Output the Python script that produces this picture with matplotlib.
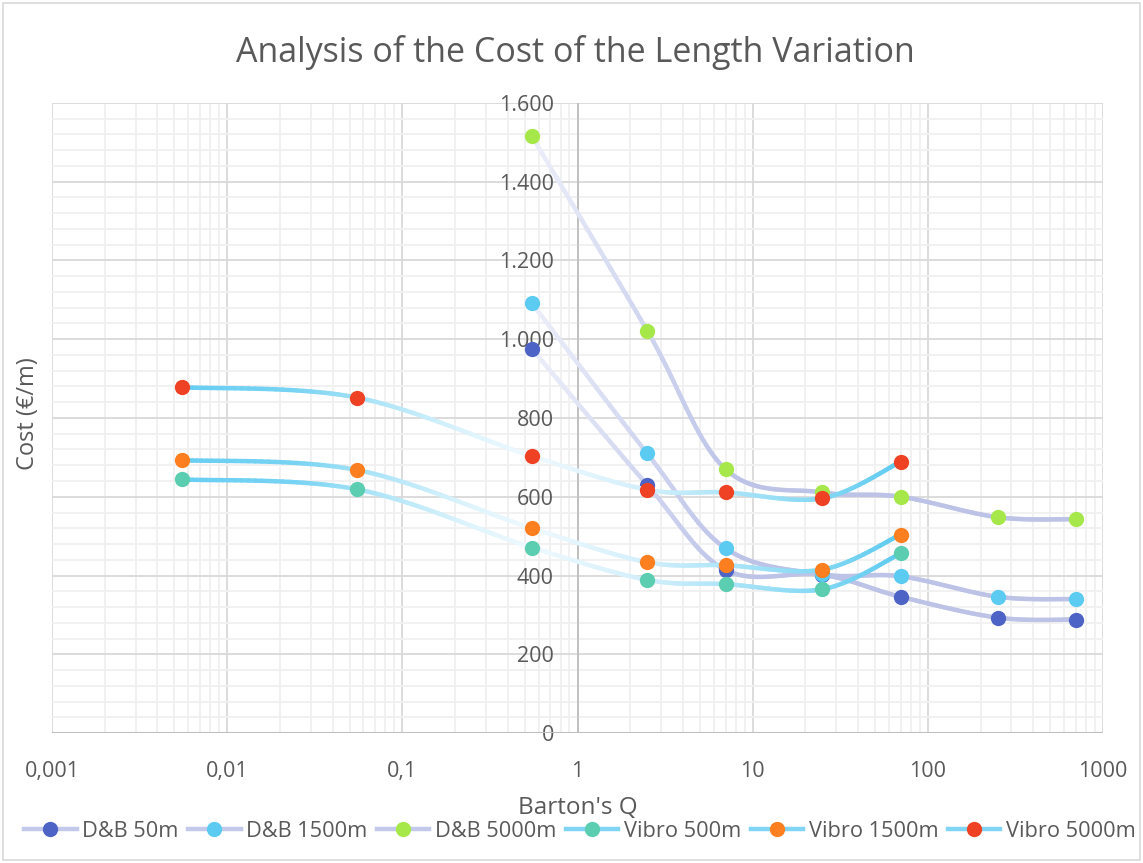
import numpy as np
import matplotlib
matplotlib.use("Agg")
import matplotlib.pyplot as plt
from matplotlib.collections import LineCollection
from matplotlib.colors import to_rgb
from matplotlib.lines import Line2D
from matplotlib.patches import Rectangle

plt.rcParams['font.family'] = ['Open Sans', 'DejaVu Sans']

# data
q_db = [0.55, 2.5, 7, 25, 70, 250, 700]
db_50 = [975, 630, 414, 402, 346, 293, 288]
db_1500 = [1091, 710, 469, 403, 398, 346, 340]
db_5000 = [1515, 1022, 670, 611, 600, 548, 543]

q_vib = [0.0055, 0.055, 0.55, 2.5, 7, 25, 70]
vib_500 = [644, 619, 471, 389, 378, 365, 456]
vib_1500 = [693, 668, 520, 434, 426, 415, 504]
vib_5000 = [878, 852, 703, 618, 611, 596, 689]

labels = ["D&B 50m", "D&B 1500m", "D&B 5000m", "Vibro 500m", "Vibro 1500m", "Vibro 5000m"]
marker_cols = ["#4d63c6", "#5bcbf1", "#a6e84a", "#5bcdb0", "#fd7f20", "#ef4124"]

x_ticks = [0.001, 0.01, 0.1, 1, 10, 100, 1000]
x_ticklabels = ["0,001", "0,01", "0,1", "1", "10", "100", "1000"]
y_ticks = [0, 200, 400, 600, 800, 1000, 1200, 1400, 1600]
y_ticklabels = ["0", "200", "400", "600", "800", "1.000", "1.200", "1.400", "1.600"]

# gradient stops (log10 x -> colour)
db_stops = [(-0.3, "#eef0fa"), (0.4, "#d0d5ef"), (0.9, "#bcc3e7"), (3.0, "#bcc3e7")]
vib_stops = [(-2.3, "#66cef2"), (-1.6, "#78d3f3"), (-1.2, "#a8e3f7"), (-0.6, "#dff4fc"),
             (-0.25, "#eff9fe"), (0.4, "#d3effb"), (0.85, "#aee5f8"), (1.4, "#84d8f4"),
             (1.9, "#5ac9ef")]


def smooth(xs, ys, n=30):
    u = np.log10(np.array(xs, float))
    v = np.array(ys, float)
    P = np.column_stack([u, v])
    out = []
    for i in range(len(P) - 1):
        p0 = P[i - 1] if i > 0 else P[i]
        p3 = P[i + 2] if i + 2 < len(P) else P[i + 1]
        p1, p2 = P[i], P[i + 1]
        c1 = p1 + (p2 - p0) / 6
        c2 = p2 - (p3 - p1) / 6
        t = np.linspace(0, 1, n)[:, None]
        seg = (1 - t) ** 3 * p1 + 3 * (1 - t) ** 2 * t * c1 + 3 * (1 - t) * t ** 2 * c2 + t ** 3 * p2
        out.append(seg if i == 0 else seg[1:])
    pts = np.vstack(out)
    return pts[:, 0], pts[:, 1]


def grad_colors(u, stops):
    su = np.array([s[0] for s in stops])
    sc = np.array([to_rgb(s[1]) for s in stops])
    return np.column_stack([np.interp(u, su, sc[:, k]) for k in range(3)])


fig = plt.figure(figsize=(11.43, 8.63), dpi=100)
ax = fig.add_axes([52 / 1143, 1 - 733 / 863, (1103 - 52) / 1143, (733 - 103) / 863])

ax.set_xscale('log')
ax.set_xlim(0.001, 1000)
ax.set_ylim(0, 1600)

series = [(q_db, db_50, db_stops), (q_db, db_1500, db_stops), (q_db, db_5000, db_stops),
          (q_vib, vib_500, vib_stops), (q_vib, vib_1500, vib_stops), (q_vib, vib_5000, vib_stops)]

z = 3
for (xs, ys, stops), col in zip(series, marker_cols):
    u, v = smooth(xs, ys)
    pts = np.column_stack([10 ** u, v]).reshape(-1, 1, 2)
    segs = np.concatenate([pts[:-1], pts[1:]], axis=1)
    mid = (u[:-1] + u[1:]) / 2
    lc = LineCollection(segs, colors=grad_colors(mid, stops), linewidths=3.2,
                        capstyle='round', zorder=z)
    ax.add_collection(lc)
    ax.plot(xs, ys, linestyle='none', marker='o', markersize=11, color=col,
            markeredgewidth=0, zorder=z + 0.5)
    z += 1

# grid
minor_x = [m * 10.0 ** e for e in range(-3, 3) for m in range(2, 10)]
ax.set_xticks(minor_x, minor=True)
ax.set_yticks(np.arange(0, 1601, 40), minor=True)
ax.set_xticks(x_ticks)
ax.set_xticklabels(x_ticklabels)
ax.set_yticks(y_ticks)
ax.set_yticklabels(y_ticklabels)
ax.grid(which='major', color='#d9d9d9', linewidth=1.3, zorder=0)
ax.grid(which='minor', color='#f0f0f0', linewidth=1.3, zorder=0)
ax.set_axisbelow(True)

for s in ['top', 'right', 'bottom']:
    ax.spines[s].set_visible(False)
ax.spines['left'].set_position(('data', 1))
ax.spines['left'].set_visible(False)
ax.axhline(0, color='#bfbfbf', linewidth=1.5, zorder=1)
ax.axvline(1, color='#bfbfbf', linewidth=1.3, zorder=1)

ax.tick_params(axis='both', which='both', length=0, labelcolor='#595959', labelsize=15.5)
ax.tick_params(axis='y', pad=17)
ax.tick_params(axis='x', pad=20)
for lbl in ax.get_yticklabels():
    lbl.set_zorder(20)

fig.text(575 / 1143, 1 - 53 / 863, "Analysis of the Cost of the Length Variation",
         ha='center', va='center', fontsize=24.5, color='#595959')
fig.text(578 / 1143, 1 - 808 / 863, "Barton's Q", ha='center', va='center',
         fontsize=17.5, color='#595959')
fig.text(28 / 1143, 1 - 414 / 863, "Cost (€/m)", ha='center', va='center',
         rotation=90, fontsize=17, color='#595959')

handles = []
for i, (lab, col) in enumerate(zip(labels, marker_cols)):
    lcol = '#c3c9ea' if i < 3 else '#7fd5f3'
    handles.append(Line2D([], [], color=lcol, linewidth=3.2, marker='o', markersize=11,
                          markerfacecolor=col, markeredgewidth=0, label=lab))
fig.legend(handles=handles, loc='center', bbox_to_anchor=(580 / 1143, 1 - 831 / 863),
           ncol=6, frameon=False, fontsize=15.7, labelcolor='#595959', handlelength=2.4,
           handletextpad=0.25, columnspacing=0.45, borderaxespad=0)

fig.add_artist(Rectangle((0.003, 0.003), 0.994, 0.994, transform=fig.transFigure,
                         fill=False, edgecolor='#d9d9d9', linewidth=1.2))

fig.savefig("out.png", dpi=100)
